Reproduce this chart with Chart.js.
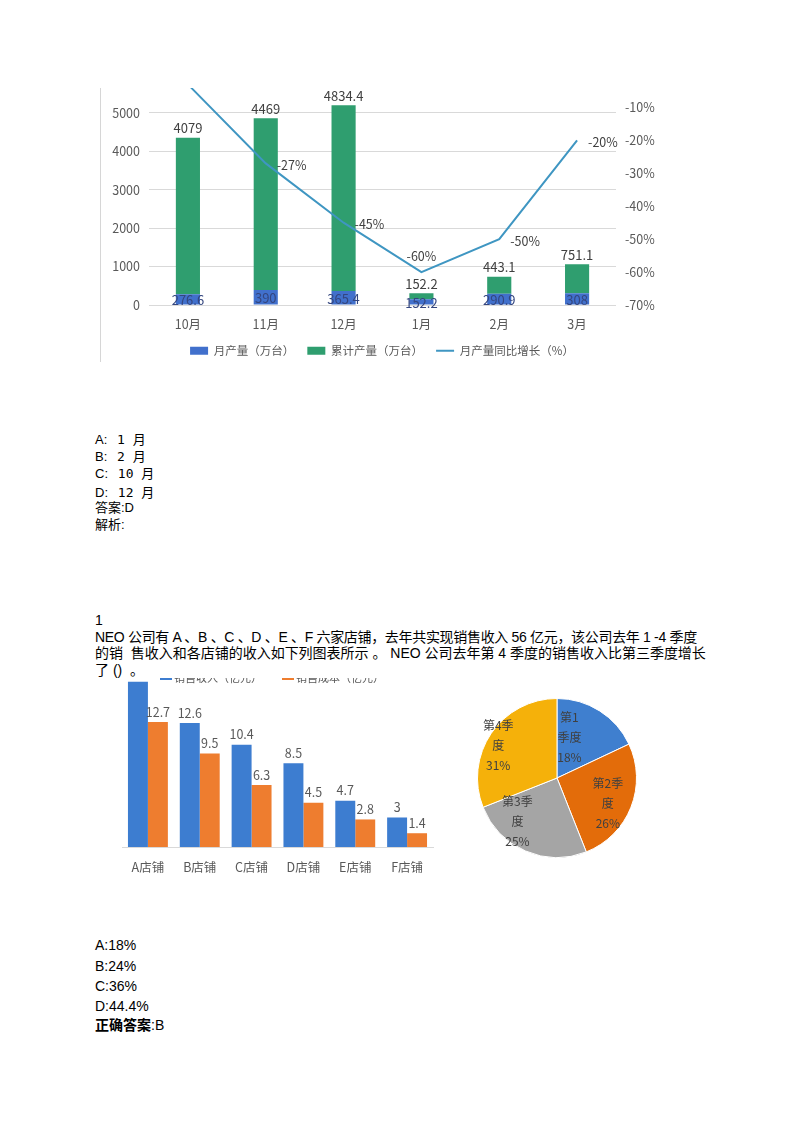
<!DOCTYPE html>
<html lang="zh">
<head>
<meta charset="utf-8">
<title>月产量 / 店铺收入</title>
<script src="https://cdn.jsdelivr.net/npm/chart.js@4.4.1/dist/chart.umd.min.js"></script>
<style>
  html, body { margin: 0; padding: 0; background: #fff; }
  body { width: 800px; height: 1131px; position: relative; overflow: hidden;
         font-family: "Liberation Sans", "Noto Sans CJK SC", sans-serif; color: #000; }
  .t { position: absolute; left: 95px; white-space: nowrap; }
  .mono { font-family: "DejaVu Sans Mono", "Noto Sans CJK SC", monospace; font-size: 13px; margin-left: 2px; }
  .box { position: absolute; overflow: hidden; }
  .box canvas { position: absolute; left: 0; }
  .lg { position: absolute; top: -7px; font: 11px/12px "Noto Sans CJK SC", sans-serif; color: #595959; white-space: nowrap; }
  .lg i { display: inline-block; width: 12px; height: 6px; margin-right: 2px; vertical-align: 2px; }
</style>
</head>
<body>

<div class="box" style="left:100px;top:88px;width:562px;height:274px;border-left:1px solid #d6d6d6">
  <canvas id="prodChart" width="562" height="311" style="top:-30px"></canvas>
</div>

<div class="t" style="top:432px;font-size:13px;line-height:16px">A:<span class="mono"> 1 月</span></div>
<div class="t" style="top:449px;font-size:13px;line-height:16px">B:<span class="mono"> 2 月</span></div>
<div class="t" style="top:466px;font-size:13px;line-height:16px">C:<span class="mono"> 10 月</span></div>
<div class="t" style="top:485px;font-size:13px;line-height:16px">D:<span class="mono"> 12 月</span></div>
<div class="t" style="top:500px;font-size:13px;line-height:16px">答案:D</div>
<div class="t" style="top:517px;font-size:13px;line-height:16px">解析:</div>

<div class="t" style="top:612px;font-size:14px;line-height:16px">1</div>
<div class="t fit" data-w="602" style="top:629px;font-size:14px;line-height:16px">NEO 公司有 A 、B 、C 、D 、E 、F 六家店铺，去年共实现销售收入 56 亿元，该公司去年 1 -4 季度</div>
<div class="t fit" data-w="611" style="top:645px;font-size:14px;line-height:16px">的销&nbsp;&nbsp;售收入和各店铺的收入如下列图表所示 。 NEO 公司去年第 4 季度的销售收入比第三季度增长</div>
<div class="t" style="top:662px;font-size:14px;line-height:16px">了 () &nbsp;。</div>

<div class="box" id="storeBox" style="left:95px;top:678px;width:365px;height:210px">
  <canvas id="storeChart" width="365" height="228" style="top:-18px"></canvas>
</div>
<div class="box" style="left:457px;top:678px;width:200px;height:200px">
  <canvas id="quarterChart" width="200" height="200" style="top:0"></canvas>
</div>

<div class="t" style="top:936px;font-size:14px;line-height:18px">A:18%</div>
<div class="t" style="top:957px;font-size:14px;line-height:18px">B:24%</div>
<div class="t" style="top:977px;font-size:14px;line-height:18px">C:36%</div>
<div class="t" style="top:997px;font-size:14px;line-height:18px">D:44.4%</div>
<div class="t" style="top:1016px;font-size:14px;line-height:18px"><b>正确答案</b>:B</div>

<script>
// ---- top chart data ----
const months = ["10月", "11月", "12月", "1月", "2月", "3月"];
const monthly = [276.6, 390, 365.4, 152.2, 290.9, 308];
const cumulative = [4079, 4469, 4834.4, 152.2, 443.1, 751.1];
const growth = [-3, -27, -45, -60, -50, -20];
const leftTicks = [0, 1000, 2000, 3000, 4000, 5000];
const rightTicks = [-70, -60, -50, -40, -30, -20, -10];

// ---- bottom charts data ----
const stores = ["A店铺", "B店铺", "C店铺", "D店铺", "E店铺", "F店铺"];
const revenue = [16.8, 12.6, 10.4, 8.5, 4.7, 3];
const cost = [12.7, 9.5, 6.3, 4.5, 2.8, 1.4];
const storeSeries = ["销售收入（亿元）", "销售成本（亿元）"];
const quarters = ["第1季度", "第2季度", "第3季度", "第4季度"];
const quarterShare = [18, 26, 25, 31];

const CJK = '"Noto Sans CJK SC", "Noto Sans", sans-serif';
Chart.defaults.font.family = CJK;
Chart.defaults.color = "#595959";
Chart.defaults.animation = false;

// stretch the long paragraph lines to the width they have on the page
document.querySelectorAll(".fit").forEach(function (el) {
  const w = el.getBoundingClientRect().width;
  const n = el.textContent.length;
  el.style.letterSpacing = ((+el.dataset.w - w) / n).toFixed(2) + "px";
});

const prodLabels = {
  id: "prodLabels",
  afterDatasetsDraw(chart) {
    const ctx = chart.ctx;
    ctx.save();
    ctx.font = "13px " + CJK;
    ctx.textAlign = "center";
    chart.getDatasetMeta(0).data.forEach((bar, i) => {
      ctx.fillStyle = "#34467f";
      ctx.textBaseline = "middle";
      ctx.fillText(monthly[i], bar.x, (bar.y + bar.base) / 2 + 1);
    });
    chart.getDatasetMeta(1).data.forEach((bar, i) => {
      ctx.fillStyle = "#404040";
      ctx.textBaseline = "bottom";
      ctx.fillText(cumulative[i], bar.x, bar.y - 3);
    });
    ctx.font = "12.5px " + CJK;
    const side = chart.options.plugins.prodLabels.side;
    chart.getDatasetMeta(2).data.forEach((pt, i) => {
      ctx.fillStyle = "#404040";
      if (side[i] === "above") {
        ctx.textAlign = "center";
        ctx.textBaseline = "bottom";
        ctx.fillText(growth[i] + "%", pt.x, pt.y - 10);
      } else {
        ctx.textAlign = "left";
        ctx.textBaseline = "middle";
        ctx.fillText(growth[i] + "%", pt.x + 11, pt.y + 2);
      }
    });
    ctx.restore();
  }
};

new Chart(document.getElementById("prodChart"), {
  type: "bar",
  data: {
    labels: months,
    datasets: [
      { label: "月产量（万台）", data: monthly, backgroundColor: "#4170cc", stack: "s", order: 1, pointStyle: "rect" },
      { label: "累计产量（万台）", data: cumulative, backgroundColor: "#2f9e6f", stack: "s", order: 1, pointStyle: "rect" },
      { type: "line", label: "月产量同比增长（%）", data: growth, yAxisID: "y1", order: 0,
        borderColor: "#3f96c2", backgroundColor: "#3f96c2", borderWidth: 2, pointRadius: 0, pointStyle: "line", tension: 0 }
    ]
  },
  options: {
    responsive: false,
    datasets: { bar: { barPercentage: 0.31, categoryPercentage: 1 } },
    layout: { padding: { top: 15.4, bottom: 2.5, left: 0, right: 0 } },
    scales: {
      x: {
        grid: { display: false }, border: { display: false },
        ticks: { padding: 4, font: { size: 12.5 } },
        afterFit: (s) => { s.height = 27; }
      },
      y: {
        stacked: true, min: 0, max: 6000, position: "left",
        grid: { color: "#d9d9d9", drawTicks: false }, border: { display: false },
        ticks: { padding: 9, font: { size: 12.5 }, callback: (v) => String(v) },
        afterBuildTicks: (s) => { s.ticks = leftTicks.map((v) => ({ value: v })); },
        afterFit: (s) => { s.width = 48; }
      },
      y1: {
        min: -70, max: 0, position: "right",
        grid: { display: false, drawTicks: false }, border: { display: false },
        ticks: { padding: 9, font: { size: 12.5 }, callback: (v) => v + "%" },
        afterBuildTicks: (s) => { s.ticks = rightTicks.map((v) => ({ value: v })); },
        afterFit: (s) => { s.width = 47; }
      }
    },
    plugins: {
      legend: {
        position: "bottom",
        labels: { usePointStyle: true, pointStyleWidth: 18, boxHeight: 8, padding: 13, font: { size: 11.5 }, color: "#595959",
                  sort: (a, b) => a.datasetIndex - b.datasetIndex }
      },
      tooltip: { enabled: false },
      prodLabels: { side: ["above", "right", "right", "above", "right", "right"] }
    }
  },
  plugins: [prodLabels]
});

// bottom-left: grouped bars, legend built in html (its upper half is cut off in the picture)
const storeColors = ["#3d7dd0", "#ee7d2f"];
const lg = document.createElement("div");
lg.className = "lg";
lg.style.left = "65px";
lg.innerHTML = storeSeries.map((s, i) =>
  `<i style="background:${storeColors[i]}"></i>${s}<span style="display:inline-block;width:${i ? 0 : 20}px"></span>`).join("");
document.getElementById("storeBox").appendChild(lg);

const storeLabels = {
  id: "storeLabels",
  afterDatasetsDraw(chart) {
    const ctx = chart.ctx;
    ctx.save();
    ctx.font = "12.5px " + CJK;
    ctx.fillStyle = "#595959";
    ctx.textAlign = "center";
    ctx.textBaseline = "bottom";
    [revenue, cost].forEach((vals, d) => {
      chart.getDatasetMeta(d).data.forEach((bar, i) => {
        ctx.fillText(vals[i], bar.x, bar.y - 4);
      });
    });
    ctx.restore();
  }
};

new Chart(document.getElementById("storeChart"), {
  type: "bar",
  data: {
    labels: stores,
    datasets: [
      { label: storeSeries[0], data: revenue, backgroundColor: storeColors[0] },
      { label: storeSeries[1], data: cost, backgroundColor: storeColors[1] }
    ]
  },
  options: {
    responsive: false,
    datasets: { bar: { barPercentage: 1, categoryPercentage: 0.77 } },
    layout: { padding: { top: 9.9, bottom: 6, left: 27, right: 27 } },
    scales: {
      x: {
        grid: { display: false }, border: { display: true, color: "#d9d9d9" },
        ticks: { padding: 5, font: { size: 12.5 }, color: "#595959" },
        afterFit: (s) => { s.height = 35; }
      },
      y: { display: false, min: 0, max: 18 }
    },
    plugins: { legend: { display: false }, tooltip: { enabled: false } }
  },
  plugins: [storeLabels]
});

// bottom-right: quarter pie
const pieLabels = {
  id: "pieLabels",
  afterDatasetsDraw(chart) {
    const ctx = chart.ctx;
    const o = chart.options.plugins.pieLabels;
    ctx.save();
    ctx.font = "12px " + CJK;
    ctx.fillStyle = "#404040";
    ctx.textAlign = "center";
    ctx.textBaseline = "middle";
    chart.getDatasetMeta(0).data.forEach((arc, i) => {
      const mid = (arc.startAngle + arc.endAngle) / 2;
      const r = arc.outerRadius * 0.62;
      const x = arc.x + Math.cos(mid) * r + o.nudge[i][0];
      const y = arc.y + Math.sin(mid) * r + o.nudge[i][1];
      const name = quarters[i];
      const lines = [name.slice(0, o.wrap[i]), name.slice(o.wrap[i]), quarterShare[i] + "%"];
      lines.forEach((ln, k) => ctx.fillText(ln, x, y + (k - 1) * 20));
    });
    ctx.restore();
  }
};

new Chart(document.getElementById("quarterChart"), {
  type: "pie",
  data: {
    labels: quarters,
    datasets: [{
      data: quarterShare,
      backgroundColor: ["#3f7fcf", "#e36c0a", "#a5a5a5", "#f5b10a"],
      borderColor: "#ffffff", borderWidth: 1
    }]
  },
  options: {
    responsive: false,
    layout: { padding: 20 },
    plugins: {
      legend: { display: false }, tooltip: { enabled: false },
      pieLabels: { wrap: [2, 3, 3, 3], nudge: [[-14, 1], [5, 7], [-20, -2], [-18, -5]] }
    }
  },
  plugins: [pieLabels]
});
</script>
</body>
</html>
